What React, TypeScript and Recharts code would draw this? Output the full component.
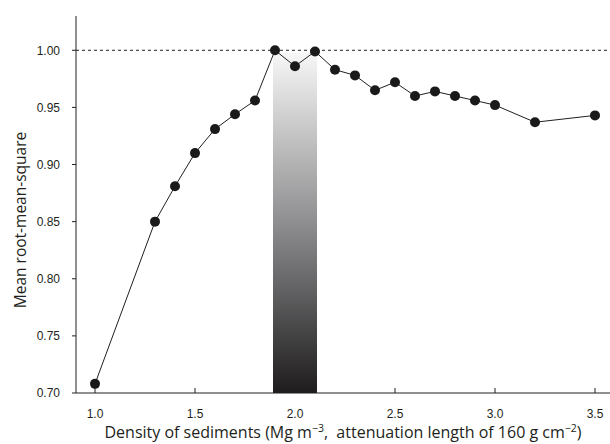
import React from "react";
import {
  LineChart,
  Line,
  XAxis,
  YAxis,
  ReferenceLine,
  ReferenceArea,
  Label,
} from "recharts";

// Density of sediments (Mg m-3)
const density = [
  1.0, 1.3, 1.4, 1.5, 1.6, 1.7, 1.8, 1.9, 2.0, 2.1, 2.2, 2.3, 2.4, 2.5, 2.6,
  2.7, 2.8, 2.9, 3.0, 3.2, 3.5,
];
// Mean root-mean-square
const rms = [
  0.708, 0.85, 0.881, 0.91, 0.931, 0.944, 0.956, 1.0, 0.986, 0.999, 0.983,
  0.978, 0.965, 0.972, 0.96, 0.964, 0.96, 0.956, 0.952, 0.937, 0.943,
];
const xTicks = [1.0, 1.5, 2.0, 2.5, 3.0, 3.5];
const yTicks = [0.7, 0.75, 0.8, 0.85, 0.9, 0.95, 1.0];
// shaded best-fit density band
const bandX = [1.89, 2.11];
const bandY = [0.7, 0.998];

const data = density.map((d, i) => ({ density: d, rms: rms[i] }));

const ink = "#231f20";
const tickFont = "'Liberation Sans', Arial, sans-serif";
const titleFont = "'Open Sans', sans-serif";

const XTitle = (props: any) => {
  const vb = props.viewBox || {};
  const cx = vb.x + vb.width / 2;
  return (
    <text
      x={cx}
      y={438}
      textAnchor="middle"
      fontFamily={titleFont}
      fontSize={16}
      fill={ink}
      style={{ whiteSpace: "pre" }}
    >
      Density of sediments (Mg m
      <tspan dy={-6} fontSize={10.5}>−3</tspan>
      <tspan dy={6}>,  attenuation length of 160 g cm</tspan>
      <tspan dy={-6} fontSize={10.5}>−2</tspan>
      <tspan dy={6}>)</tspan>
    </text>
  );
};

const YTitle = () => (
  <text
    x={26}
    y={220}
    transform="rotate(-90 26 220)"
    textAnchor="middle"
    fontFamily={titleFont}
    fontSize={15.5}
    fill={ink}
  >
    Mean root-mean-square
  </text>
);

const App: React.FC = () => {
  return (
    <div style={{ position: "absolute", left: 0, top: 0 }}>
      <LineChart
        width={610}
        height={444}
        data={data}
        margin={{ top: 16, right: 0, left: 0, bottom: 0 }}
      >
        <defs>
          <linearGradient id="band" x1="0" y1="0" x2="0" y2="1">
            <stop offset="0%" stopColor="#f7f7f7" />
            <stop offset="50%" stopColor="#8e8e90" />
            <stop offset="100%" stopColor="#1e1c1d" />
          </linearGradient>
        </defs>
        <XAxis
          dataKey="density"
          type="number"
          domain={[0.905, 3.575]}
          ticks={xTicks}
          tickFormatter={(v) => v.toFixed(1)}
          height={51}
          stroke={ink}
          tickSize={-5}
          tickMargin={21}
          tick={{ fill: ink, fontSize: 12, fontFamily: tickFont }}
          allowDataOverflow
        >
          <Label content={<XTitle />} />
        </XAxis>
        <YAxis
          type="number"
          domain={[0.7, 1.03]}
          ticks={yTicks}
          tickFormatter={(v) => v.toFixed(2)}
          width={76}
          stroke={ink}
          tickSize={4}
          tickMargin={12}
          tick={{ fill: ink, fontSize: 12, fontFamily: tickFont }}
          allowDataOverflow
        >
          <Label content={<YTitle />} />
        </YAxis>
        <ReferenceArea
          x1={bandX[0]}
          x2={bandX[1]}
          y1={bandY[0]}
          y2={bandY[1]}
          fill="url(#band)"
          fillOpacity={1}
          stroke="none"
        />
        <ReferenceLine
          y={1.0}
          stroke={ink}
          strokeWidth={1}
          strokeDasharray="3 3"
        />
        <Line
          dataKey="rms"
          type="linear"
          stroke={ink}
          strokeWidth={1}
          dot={{ r: 5, fill: "#1a1a1a", stroke: "#1a1a1a", strokeWidth: 0 }}
          isAnimationActive={false}
        />
      </LineChart>
    </div>
  );
};

export default App;
